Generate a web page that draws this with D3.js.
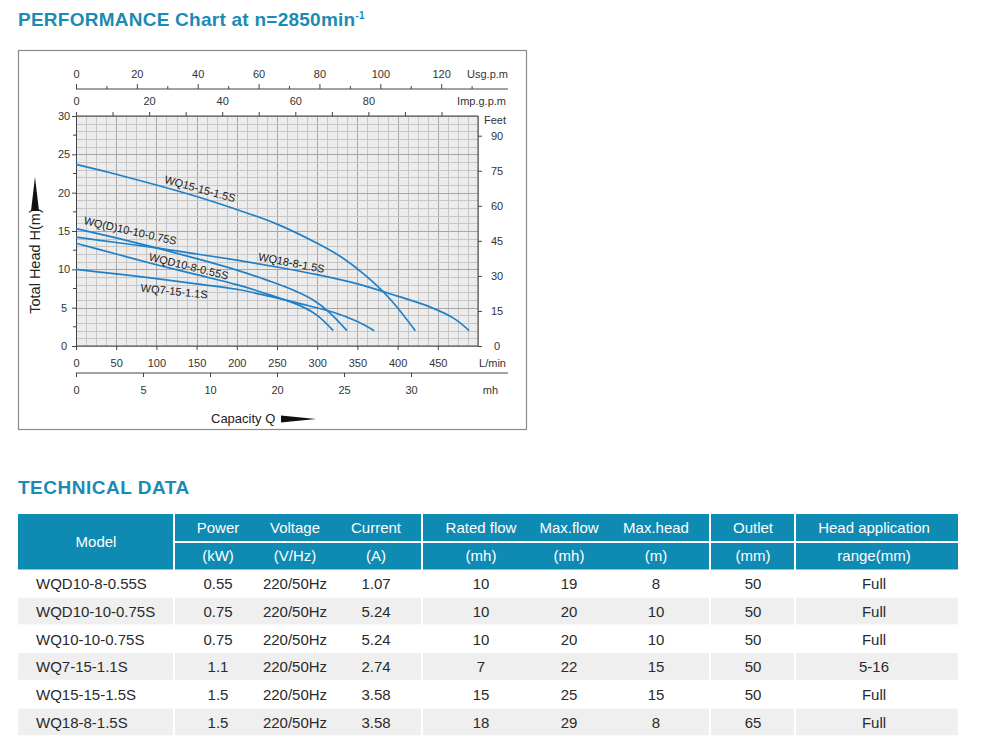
<!DOCTYPE html>
<html>
<head>
<meta charset="utf-8">
<script src="https://cdn.jsdelivr.net/npm/d3@7"></script>
<style>
    body { margin: 0; background: #fff; }
    svg { display: block; font-family: "Liberation Sans", Arial, sans-serif; }
</style>
</head>
<body>
<svg id="page" width="1000" height="742"></svg>
<script>
// ---- chart data (flow in L/min, head in m) ----
var curveNames = ["WQ15-15-1.5S", "WQ18-8-1.5S", "WQ(D)10-10-0.75S", "WQD10-8-0.55S", "WQ7-15-1.1S"];
var wq15 = [[0,23.7],[50,22.4],[100,21.0],[150,19.5],[200,17.8],[250,15.9],[300,13.4],[330,11.6],[360,9.2],[390,6.2],[422,2.0]];
var wq18 = [[0,14.2],[50,13.5],[100,12.8],[150,12.0],[200,11.2],[250,10.3],[300,9.3],[350,8.1],[400,6.5],[440,5.1],[470,3.6],[489,2.0]];
var wqd10_10 = [[0,15.3],[50,14.1],[100,12.8],[150,11.4],[200,9.9],[240,8.5],[270,7.3],[295,6.0],[315,4.4],[337,2.0]];
var wqd10_8 = [[0,13.4],[50,12.0],[100,10.6],[150,9.3],[200,8.0],[240,6.7],[280,5.2],[300,4.0],[320,2.0]];
var wq7 = [[0,10.0],[50,9.4],[100,8.8],[150,8.1],[200,7.4],[240,6.5],[280,5.5],[320,4.4],[350,3.2],[371,2.0]];
var curveData = [wq15, wq18, wqd10_10, wqd10_8, wq7];

// tick values / labels
var headTicks = [0, 5, 10, 15, 20, 25, 30];
var feetTicks = [0, 15, 30, 45, 60, 75, 90];
var lpmTicks = [0, 50, 100, 150, 200, 250, 300, 350, 400, 450];
var usgTicks = d3.range(0, 131, 10);
var impTicks = d3.range(0, 101, 10);
var mhTicks = [0, 5, 10, 15, 20, 25];
var mhTickLabels = ["0", "5", "10", "20", "25", "30"];   // as printed on the original

// ---- table data ----
var models = ["WQD10-8-0.55S", "WQD10-10-0.75S", "WQ10-10-0.75S", "WQ7-15-1.1S", "WQ15-15-1.5S", "WQ18-8-1.5S"];
var power = ["0.55", "0.75", "0.75", "1.1", "1.5", "1.5"];
var voltage = ["220/50Hz", "220/50Hz", "220/50Hz", "220/50Hz", "220/50Hz", "220/50Hz"];
var current = ["1.07", "5.24", "5.24", "2.74", "3.58", "3.58"];
var ratedFlow = ["10", "10", "10", "7", "15", "18"];
var maxFlow = ["19", "20", "20", "22", "25", "29"];
var maxHead = ["8", "10", "10", "15", "15", "8"];
var outlet = ["50", "50", "50", "50", "50", "65"];
var headRange = ["Full", "Full", "Full", "5-16", "Full", "Full"];
var headerTop = ["Power", "Voltage", "Current", "Rated flow", "Max.flow", "Max.head", "Outlet", "Head application"];
var headerBottom = ["(kW)", "(V/Hz)", "(A)", "(mh)", "(mh)", "(m)", "(mm)", "range(mm)"];

var blue = "#1a8bb5";
var curveColor = "#1f80c8";
var svg = d3.select("#page");

// Title
var title = svg.append("text")
    .attr("x", 18).attr("y", 26)
    .attr("fill", blue)
    .style("font-size", "19px").style("font-weight", "bold")
    .style("letter-spacing", "0.25px");
title.append("tspan").text("PERFORMANCE Chart at n=2850min");
title.append("tspan").text("-1").attr("dy", -7).style("font-size", "10px");

// Chart frame
svg.append("rect")
    .attr("x", 18.5).attr("y", 50.5).attr("width", 508).attr("height", 379)
    .attr("fill", "none").attr("stroke", "#8a8a8a").attr("stroke-width", 1.2);

// Scales
var x = d3.scaleLinear().domain([0, 500]).range([76, 478]);
var y = d3.scaleLinear().domain([0, 30]).range([346, 116]);
var feet = d3.scaleLinear().domain([0, 30 * 3.281]).range([346, 116]);
var usg = d3.scaleLinear().domain([0, 500 / 3.785]).range([76, 478]);
var imp = d3.scaleLinear().domain([0, 500 / 4.546]).range([76, 478]);
var mh = d3.scaleLinear().domain([0, 30]).range([76, 478]);

// Grid
svg.append("rect")
    .attr("x", x(0)).attr("y", y(30))
    .attr("width", x(500) - x(0)).attr("height", y(0) - y(30))
    .attr("fill", "#ececec");

var gridCols = d3.range(0, 500.1, 12.5);
var gridRows = d3.range(0, 30.1, 1);
svg.append("g")
    .selectAll("line")
    .data(gridCols)
    .join("line")
        .attr("x1", d => Math.round(x(d)) + 0.5).attr("x2", d => Math.round(x(d)) + 0.5)
        .attr("y1", y(30)).attr("y2", y(0))
        .attr("stroke", d => d % 50 === 0 ? "#a6a6a6" : "#c6c6c6")
        .attr("stroke-width", 1);
svg.append("g")
    .selectAll("line")
    .data(gridRows)
    .join("line")
        .attr("x1", x(0)).attr("x2", x(500))
        .attr("y1", d => Math.round(y(d)) + 0.5).attr("y2", d => Math.round(y(d)) + 0.5)
        .attr("stroke", d => d % 5 === 0 ? "#a6a6a6" : "#c6c6c6")
        .attr("stroke-width", 1);

// Axis styling helper
function styleAxis(g) {
    g.style("font-size", "11px").style("font-family", "'Liberation Sans', Arial, sans-serif");
    g.selectAll(".tick line").attr("stroke", "#444");
    g.selectAll(".tick text").attr("fill", "#333");
    g.select(".domain").attr("stroke", "#444");
}

// Left axis (head, m)
svg.append("g")
    .attr("transform", `translate(${x(0)},0)`)
    .call(d3.axisLeft(y).tickValues(headTicks).tickSize(4).tickPadding(7).tickSizeOuter(0))
    .call(styleAxis)
    .call(g => g.selectAll(".tick text").attr("text-anchor", "middle").attr("x", -12));
svg.append("g")
    .selectAll("line")
    .data(d3.range(2.5, 30, 5))
    .join("line")
        .attr("x1", x(0) - 3).attr("x2", x(0))
        .attr("y1", d => y(d)).attr("y2", d => y(d))
        .attr("stroke", "#444");

// Right axis (feet)
svg.append("g")
    .attr("transform", `translate(${x(500)},0)`)
    .call(d3.axisRight(feet).tickValues(feetTicks).tickSize(4).tickSizeOuter(0))
    .call(styleAxis)
    .call(g => g.select(".domain").attr("d", `M0,${y(30)}V${y(0)}`))
    .call(g => g.selectAll(".tick text").attr("text-anchor", "middle").attr("x", 19));
svg.append("text").text("Feet")
    .attr("x", 484).attr("y", 124)
    .attr("fill", "#333").style("font-size", "11px");

// Top axis: Imp.g.p.m (top edge of the grid)
svg.append("g")
    .attr("transform", `translate(0,${y(30)})`)
    .call(d3.axisTop(imp).tickValues(impTicks).tickSize(4).tickPadding(7).tickSizeOuter(0)
        .tickFormat(d => (d % 20 === 0 && d <= 80) ? d : ""))
    .call(styleAxis)
    .call(g => g.select(".domain").attr("d", `M${x(0)},0H${x(500)}`));
svg.append("text").text("Imp.g.p.m")
    .attr("x", 506).attr("y", 105).attr("text-anchor", "end")
    .attr("fill", "#333").style("font-size", "11px");

// Top axis: Usg.p.m
var usgY = 89;
svg.append("g")
    .attr("transform", `translate(0,${usgY})`)
    .call(d3.axisTop(usg).tickValues(usgTicks).tickSize(5).tickPadding(6).tickSizeOuter(0)
        .tickFormat(d => (d % 20 === 0 && d <= 120) ? d : ""))
    .call(styleAxis)
    .call(g => g.select(".domain").attr("d", `M${x(0)},0H508`))
    .call(g => g.selectAll(".tick line").attr("y2", d => d % 20 === 0 ? -5 : -3));
svg.append("text").text("Usg.p.m")
    .attr("x", 508).attr("y", 78).attr("text-anchor", "end")
    .attr("fill", "#333").style("font-size", "11px");

// Bottom axis: L/min
svg.append("g")
    .attr("transform", `translate(0,${y(0)})`)
    .call(d3.axisBottom(x).tickValues(lpmTicks).tickSize(4).tickPadding(9).tickSizeOuter(0))
    .call(styleAxis)
    .call(g => g.select(".domain").attr("d", `M${x(0)},0H${x(500)}`));
svg.append("text").text("L/min")
    .attr("x", 506).attr("y", 367).attr("text-anchor", "end")
    .attr("fill", "#333").style("font-size", "11px");

// Bottom axis: mh
var mhY = 373;
svg.append("g")
    .attr("transform", `translate(0,${mhY})`)
    .call(d3.axisBottom(mh).tickValues(mhTicks).tickSize(4).tickPadding(9).tickSizeOuter(0)
        .tickFormat((d, i) => mhTickLabels[i]))
    .call(styleAxis)
    .call(g => g.select(".domain").attr("d", `M${x(0)},0H508`));
svg.append("text").text("mh")
    .attr("x", 498).attr("y", 394).attr("text-anchor", "end")
    .attr("fill", "#333").style("font-size", "11px");

// Axis titles with wedge arrows
svg.append("text").text("Capacity Q")
    .attr("x", 211).attr("y", 423)
    .attr("fill", "#222").style("font-size", "13px");
svg.append("path")
    .attr("d", "M281,415.5L316,419L281,422.5Z")
    .attr("fill", "#111");
svg.append("text").text("Total Head H(m)")
    .attr("transform", "translate(40,261) rotate(-90)")
    .attr("text-anchor", "middle")
    .attr("fill", "#222").style("font-size", "14.5px");
svg.append("path")
    .attr("d", "M31,211L35,177L39,211Z")
    .attr("fill", "#111");

// Curves
var line = d3.line()
    .x(d => x(d[0]))
    .y(d => y(d[1]))
    .curve(d3.curveCatmullRom.alpha(0.5));
svg.append("g")
    .selectAll("path")
    .data(curveData)
    .join("path")
        .attr("d", line)
        .attr("fill", "none")
        .attr("stroke", curveColor)
        .attr("stroke-width", 1.7);

// Curve labels: anchor (flow, head) and angle
var labelSpots = [
    { q: 109, h: 21.3, angle: 15.5 },
    { q: 226, h: 11.2, angle: 11 },
    { q: 9,   h: 15.9, angle: 12.7 },
    { q: 90,  h: 11.2, angle: 14 },
    { q: 80,  h: 7.1,  angle: 6 }
];
svg.append("g")
    .selectAll("text")
    .data(curveNames)
    .join("text")
        .text(d => d)
        .attr("transform", (d, i) => `translate(${x(labelSpots[i].q)},${y(labelSpots[i].h)}) rotate(${labelSpots[i].angle})`)
        .attr("fill", "#1a1a1a")
        .style("font-size", "11px");

// ---- Technical data table ----
svg.append("text").text("TECHNICAL DATA")
    .attr("x", 18).attr("y", 494)
    .attr("fill", blue)
    .style("font-size", "19px").style("font-weight", "bold")
    .style("letter-spacing", "0.5px");

var headFill = "#0f8ab2";
var groups = [[18, 173], [175, 421], [423, 709], [711, 794], [796, 958]];
var colX = [218, 295, 376, 481, 569, 656, 753, 874];
var headRow1 = [514, 541], headRow2 = [543, 569.5];
var rowTop = 570, rowH = 27.7;

// header cells
svg.append("rect")
    .attr("x", groups[0][0]).attr("y", headRow1[0])
    .attr("width", groups[0][1] - groups[0][0]).attr("height", headRow2[1] - headRow1[0])
    .attr("fill", headFill);
svg.append("g")
    .selectAll("rect")
    .data(groups.slice(1).flatMap(g => [[g, headRow1], [g, headRow2]]))
    .join("rect")
        .attr("x", d => d[0][0]).attr("y", d => d[1][0])
        .attr("width", d => d[0][1] - d[0][0]).attr("height", d => d[1][1] - d[1][0])
        .attr("fill", headFill);

var headText = svg.append("g")
    .attr("fill", "#fff")
    .attr("text-anchor", "middle")
    .style("font-size", "15px");
headText.append("text").text("Model").attr("x", 96).attr("y", 547);
headText.selectAll("text.top")
    .data(headerTop)
    .join("text").attr("class", "top")
        .text(d => d)
        .attr("x", (d, i) => colX[i]).attr("y", 533);
headText.selectAll("text.bot")
    .data(headerBottom)
    .join("text").attr("class", "bot")
        .text(d => d)
        .attr("x", (d, i) => colX[i]).attr("y", 561);

// striped rows
svg.append("g")
    .selectAll("rect")
    .data(groups.flatMap(g => [1, 3, 5].map(r => [g, r])))
    .join("rect")
        .attr("x", d => d[0][0]).attr("y", d => rowTop + d[1] * rowH)
        .attr("width", d => d[0][1] - d[0][0]).attr("height", rowH - 1)
        .attr("fill", "#efefef");

var columns = [power, voltage, current, ratedFlow, maxFlow, maxHead, outlet, headRange];
var body = svg.append("g")
    .attr("fill", "#2a2a2a")
    .style("font-size", "15px");
body.selectAll("text.model")
    .data(models)
    .join("text").attr("class", "model")
        .text(d => d)
        .attr("x", 36)
        .attr("y", (d, i) => rowTop + i * rowH + rowH / 2 + 5.5);
columns.forEach(function (col, c) {
    body.selectAll("text.c" + c)
        .data(col)
        .join("text").attr("class", "c" + c)
            .text(d => d)
            .attr("text-anchor", "middle")
            .attr("x", colX[c])
            .attr("y", (d, i) => rowTop + i * rowH + rowH / 2 + 5.5);
});
</script>
</body>
</html>
